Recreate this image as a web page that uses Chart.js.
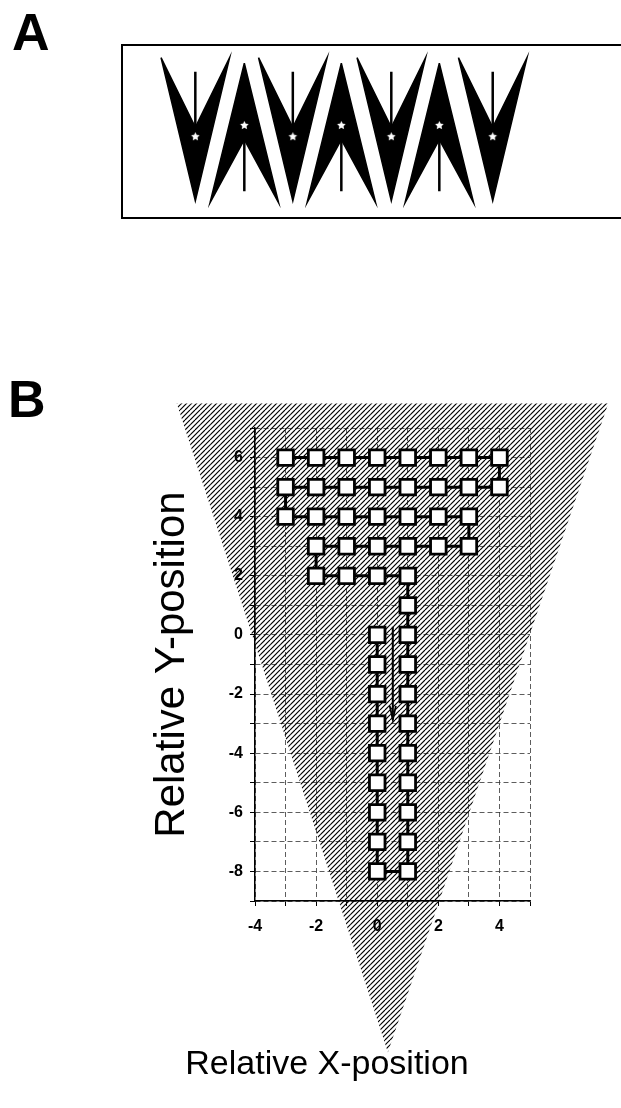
<!doctype html>
<html>
<head>
	<title>Relative position path</title>
	<script src="https://cdn.jsdelivr.net/npm/chart.js@4.4.1"></script>
	<style>
	* { margin: 0; padding: 0; }
	body { width: 621px; height: 1108px; overflow: hidden; position: relative; background: #fff; font-family: 'Liberation Sans', Arial, sans-serif; }
	.panelLabel { position: absolute; font-size: 52px; font-weight: bold; line-height: 52px; color: #000; }
	#boxA { position: absolute; left: 121px; top: 44px; width: 620px; height: 171px; border: 2px solid #000; }
	#canvas_a { position: absolute; left: 0; top: 0; display: block; }
	#canvas_b { position: absolute; left: 0; top: 380px; display: block; }
	</style>
</head>
<body>
	<div class="panelLabel" style="left:12px;top:6px;">A</div>
	<div id="boxA"><canvas id="canvas_a" width="498" height="171"></canvas></div>
	<div class="panelLabel" style="left:8px;top:373px;">B</div>
	<canvas id="canvas_b" width="621" height="728"></canvas>

<script type="text/javascript">
	// ---- panel A: row of arrowheads ----
	const shapeCenters = [0, 1, 1.99, 2.98, 4, 4.98, 6.07];
	const shapeDir = ['down', 'up', 'down', 'up', 'down', 'up', 'down'];

	// ---- panel B: path of squares ----
	const pathX = [0, 0, 0, 0, 0, 0, 0, 0, 0,
		1, 1, 1, 1, 1, 1, 1, 1, 1, 1, 1,
		0, -1, -2,
		-2, -1, 0, 1, 2, 3,
		3, 2, 1, 0, -1, -2, -3,
		-3, -2, -1, 0, 1, 2, 3, 4,
		4, 3, 2, 1, 0, -1, -2, -3];
	const pathY = [0, -1, -2, -3, -4, -5, -6, -7, -8,
		-8, -7, -6, -5, -4, -3, -2, -1, 0, 1, 2,
		2, 2, 2,
		3, 3, 3, 3, 3, 3,
		4, 4, 4, 4, 4, 4, 4,
		5, 5, 5, 5, 5, 5, 5, 5,
		6, 6, 6, 6, 6, 6, 6, 6];
	const arrowX = [0.51, 0.51];
	const arrowY = [0.28, -2.87];
	const headX = [0.41, 0.51, 0.61];
	const headY = [-2.4, -2.87, -2.4];
	const coneX = [-6.56, 7.56, 0.35];
	const coneY = [7.83, 7.83, -14.12];
	const xLabelValues = [-4, -2, 0, 2, 4];
	const yLabelValues = [-8, -6, -4, -2, 0, 2, 4, 6];

	const FONT = "'Liberation Sans', Arial, sans-serif";
	Chart.defaults.font.family = FONT;

	function toPts(xs, ys) {
		return xs.map((v, i) => ({x: v, y: ys[i]}));
	}

	function makeStar(r) {
		const c = document.createElement('canvas');
		c.width = c.height = 2 * r + 2;
		const g = c.getContext('2d');
		g.fillStyle = '#fff';
		g.beginPath();
		for (let i = 0; i < 10; i++) {
			const rad = i % 2 ? r * 0.5 : r;
			const a = -Math.PI / 2 + i * Math.PI / 5;
			g.lineTo(r + 1 + rad * Math.cos(a), r + 1 + rad * Math.sin(a));
		}
		g.closePath();
		g.fill();
		return c;
	}

	function makeHatch(ctx) {
		const c = document.createElement('canvas');
		c.width = 10; c.height = 10;
		const g = c.getContext('2d');
		g.strokeStyle = '#000';
		g.lineWidth = 1.2;
		[-10, -5, 0, 5, 10].forEach(k => {
			g.beginPath();
			g.moveTo(k, 10);
			g.lineTo(k + 10, 0);
			g.stroke();
		});
		return ctx.createPattern(c, 'repeat');
	}

	// arrowhead geometry (chart A units)
	const half = 0.7;
	const down = {prong: 9.59, notch: 5.26, tip: 0.7, stem: 8.71, star: 4.68};
	const up = {tip: 9.24, prong: 0.58, notch: 4.5, stem: 1.29, star: 5.38};

	var a_sets = [];
	var stemPts = [];
	var starPts = [];
	shapeCenters.forEach((c, i) => {
		let poly;
		if (shapeDir[i] === 'down') {
			poly = [[c - half, down.prong], [c, down.notch], [c + half, down.prong], [c, down.tip], [c - half, down.prong]];
			stemPts.push({x: c, y: down.stem}, {x: c, y: down.notch});
			starPts.push({x: c, y: down.star});
		} else {
			poly = [[c, up.tip], [c + half, up.prong], [c, up.notch], [c - half, up.prong], [c, up.tip]];
			stemPts.push({x: c, y: up.notch}, {x: c, y: up.stem});
			starPts.push({x: c, y: up.star});
		}
		stemPts.push({x: c + 0.5, y: null});
		a_sets.push({
			data: poly.map(p => ({x: p[0], y: p[1]})),
			fill: 'shape',
			backgroundColor: '#000',
			borderColor: '#000',
			borderWidth: 1.5,
			pointRadius: 0,
			tension: 0,
			order: 2,
		});
	});
	a_sets.push({
		data: stemPts,
		borderColor: '#000',
		borderWidth: 2.5,
		pointRadius: 0,
		fill: false,
		spanGaps: false,
		order: 1,
	});
	a_sets.push({
		data: starPts,
		showLine: false,
		pointStyle: makeStar(4.5),
		pointRadius: 4,
		order: 0,
	});

	var a_Chart = new Chart(document.getElementById('canvas_a'), {
		type: 'line',
		data: {datasets: a_sets},
		options: {
			responsive: false,
			animation: false,
			events: [],
			layout: {padding: 0},
			scales: {
				x: {type: 'linear', display: false, min: -1.374, max: 8.586},
				y: {type: 'linear', display: false, min: 0, max: 10},
			},
			plugins: {legend: {display: false}, tooltip: {enabled: false}},
		},
	});

	// ---- panel B chart ----
	var hatch = null;
	const coneHatch = {
		id: 'coneHatch',
		beforeDatasetsDraw(chart) {
			const {ctx, scales: {x, y}} = chart;
			if (!hatch) hatch = makeHatch(ctx);
			ctx.save();
			ctx.beginPath();
			coneX.forEach((v, i) => {
				const px = x.getPixelForValue(v), py = y.getPixelForValue(coneY[i]);
				if (i) ctx.lineTo(px, py); else ctx.moveTo(px, py);
			});
			ctx.closePath();
			ctx.fillStyle = hatch;
			ctx.fill();
			ctx.restore();
		}
	};

	const tickFont = {size: 16, weight: 'bold', family: FONT};

	var b_Chart = new Chart(document.getElementById('canvas_b'), {
		type: 'line',
		data: {
			datasets: [
				{
					data: toPts(pathX, pathY),
					borderColor: '#000',
					borderWidth: 3,
					pointStyle: 'rect',
					pointRadius: 11,
					pointBorderWidth: 2.8,
					pointBackgroundColor: '#fff',
					pointBorderColor: '#000',
					fill: false,
					tension: 0,
				},
				{
					data: toPts(arrowX, arrowY),
					borderColor: '#000',
					borderWidth: 2,
					pointRadius: 0,
					fill: false,
				},
				{
					data: toPts(headX, headY),
					borderColor: '#000',
					borderWidth: 1.8,
					pointRadius: 0,
					fill: false,
				},
			]
		},
		options: {
			responsive: false,
			animation: false,
			events: [],
			layout: {padding: {left: 124, right: 91, top: 48, bottom: 22.6}},
			scales: {
				x: {
					type: 'linear',
					min: -4,
					max: 5,
					ticks: {
						stepSize: 1,
						autoSkip: false,
						maxRotation: 0,
						padding: 11,
						color: '#000',
						font: tickFont,
						callback: v => xLabelValues.includes(v) ? v : '',
					},
					grid: {color: '#333', lineWidth: 0.8, tickLength: 5, tickColor: '#000', tickWidth: 1, tickBorderDash: []},
					border: {display: true, color: '#000', width: 1.5, dash: [5, 3]},
					afterFit: s => { s.height = 143.6; },
				},
				y: {
					type: 'linear',
					min: -9,
					max: 7,
					ticks: {
						stepSize: 1,
						autoSkip: false,
						padding: 7,
						color: '#000',
						font: tickFont,
						callback: v => yLabelValues.includes(v) ? v : '',
					},
					grid: {color: '#333', lineWidth: 0.8, tickLength: 5, tickColor: '#000', tickWidth: 1, tickBorderDash: []},
					border: {display: true, color: '#000', width: 1.5, dash: [5, 3]},
					title: {
						display: true,
						text: 'Relative Y-position',
						color: '#000',
						font: {size: 42, family: FONT},
						padding: {top: 22.8, bottom: 0},
					},
					afterFit: s => { s.width = 131; },
				}
			},
			plugins: {
				legend: {display: false},
				tooltip: {enabled: false},
				title: {
					display: true,
					position: 'bottom',
					text: 'Relative X-position',
					color: '#000',
					font: {size: 34, weight: 'normal', family: FONT},
					padding: {top: 0, bottom: 0},
				},
			},
		},
		plugins: [coneHatch]
	});
</script>
</body>
</html>
